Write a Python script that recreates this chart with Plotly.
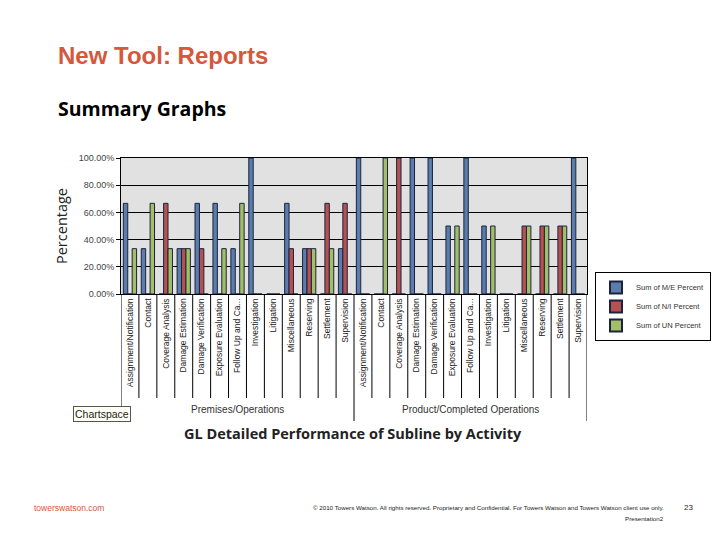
import plotly.graph_objects as go

groups = ["Premises/Operations", "Product/Completed Operations"]
activities = ["Assignment/Notification", "Contact", "Coverage Analysis", "Damage Estimation",
              "Damage Verification", "Exposure Evaluation", "Follow Up and Ca...", "Investigation",
              "Litigation", "Miscellaneous", "Reserving", "Settlement", "Supervision"]
me_pct = [66.67, 33.33, 0, 33.33, 66.67, 66.67, 33.33, 100, 0, 66.67, 33.33, 0, 33.33,
          100, 0, 0, 100, 100, 50, 100, 50, 0, 0, 0, 0, 100]
ni_pct = [0, 0, 66.67, 33.33, 33.33, 0, 0, 0, 0, 33.33, 33.33, 66.67, 66.67,
          0, 0, 100, 0, 0, 0, 0, 0, 0, 50, 50, 50, 0]
un_pct = [33.33, 66.67, 33.33, 33.33, 0, 33.33, 66.67, 0, 0, 0, 33.33, 33.33, 0,
          0, 100, 0, 0, 0, 50, 0, 50, 0, 50, 50, 50, 0]
series_names = ["Sum of M/E Percent", "Sum of N/I Percent", "Sum of UN Percent"]
y_ticks = [0, 20, 40, 60, 80, 100]

labels = activities * len(groups)
xs = list(range(len(labels)))

OFF = 8  # page body margin
W, H = 720 - OFF, 540 - OFF
L, R, T, B = 121, 587, 158, 294

def px(X):
    return (X - L) / (R - L)

def py(Y):
    return (B - Y) / (B - T)

colors = ["#5a7dab", "#b5514e", "#a2bf66"]
fig = go.Figure()
for name, vals, c in zip(series_names, [me_pct, ni_pct, un_pct], colors):
    fig.add_trace(go.Bar(x=xs, y=[v / 100 for v in vals], name=name,
                         marker=dict(color=c, line=dict(color="#1c2340", width=1))))

NARROW = "Liberation Sans Narrow, Liberation Sans, Arial"
tickfont = dict(family=NARROW, size=8.5, color="#222222")
fig.update_layout(
    width=W, height=H,
    margin=dict(l=L - OFF, r=720 - R, t=T - OFF, b=540 - B, autoexpand=False),
    paper_bgcolor="white", plot_bgcolor="#e1e1e1",
    barmode="group", bargap=0.26, bargroupgap=0,
    font=dict(family="Liberation Sans, Arial", color="#222222"),
    legend=dict(x=px(595), y=py(272), xanchor="left", yanchor="top",
                bordercolor="#000000", borderwidth=1, bgcolor="white",
                font=dict(family=NARROW, size=7.5, color="#333333"),
                tracegroupgap=0, itemwidth=30, itemsizing="constant"),
    showlegend=True,
)
fig.update_xaxes(range=[-0.5, len(labels) - 0.5], tickmode="array", tickvals=xs, ticktext=labels,
                 tickangle=-90, tickfont=tickfont, showgrid=False, zeroline=False,
                 showline=True, linecolor="black", linewidth=1, mirror=True, ticks="")
fig.update_yaxes(range=[0, 1], tickmode="array", tickvals=[v / 100 for v in y_ticks],
                 tickformat=".2%", tickfont=dict(family=NARROW, size=9, color="#444444"),
                 showgrid=True, gridcolor="black", gridwidth=1, zeroline=False,
                 showline=True, linecolor="black", linewidth=1, mirror=True,
                 ticks="outside", ticklen=4, tickcolor="black")

# category separators
for i in range(len(labels) + 1):
    is_group = (i % len(activities) == 0)
    fig.add_shape(type="line", xref="x", yref="paper", x0=i - 0.5, x1=i - 0.5,
                  y0=0, y1=py(421) if is_group else py(398),
                  line=dict(color="black", width=1))

# group labels
for gi, g in enumerate(groups):
    fig.add_annotation(xref="x", yref="paper", x=gi * len(activities) + (len(activities) - 1) / 2,
                       y=py(409), yanchor="middle", text=g, showarrow=False,
                       font=dict(family=NARROW, size=10, color="#333333"))

# chartspace tooltip
fig.add_annotation(xref="paper", yref="paper", x=px(73), y=py(414), xanchor="left", yanchor="middle",
                   text="Chartspace", showarrow=False, bgcolor="#fffff4", bordercolor="#555555",
                   borderwidth=1, borderpad=1,
                   font=dict(family="Liberation Sans, Arial", size=10.5, color="#222222"))

# chart title
fig.add_annotation(xref="paper", yref="paper", x=px(353), y=py(433), yanchor="middle",
                   text="<b>GL Detailed Performance of Subline by Activity</b>",
                   showarrow=False, font=dict(family="Open Sans, Liberation Sans", size=14.5, color="#222222"))

# y axis title
fig.add_annotation(xref="paper", yref="paper", x=px(61), y=py(226), xanchor="center", yanchor="middle",
                   text="Percentage", textangle=-90,
                   showarrow=False, font=dict(family="Open Sans, Liberation Sans", size=14.5, color="#222222"))

# slide texts
fig.add_annotation(xref="paper", yref="paper", x=px(56), y=py(55), xanchor="left", yanchor="middle",
                   text="<b>New Tool: Reports</b>", showarrow=False,
                   font=dict(family="Liberation Sans, Arial", size=24, color="#d4583c"))
fig.add_annotation(xref="paper", yref="paper", x=px(56), y=py(108), xanchor="left", yanchor="middle",
                   text="<b>Summary Graphs</b>", showarrow=False,
                   font=dict(family="Open Sans, Liberation Sans", size=19.5, color="#000000"))
fig.add_annotation(xref="paper", yref="paper", x=px(32), y=py(508), xanchor="left", yanchor="middle",
                   text="towerswatson.com", showarrow=False,
                   font=dict(family="Liberation Sans, Arial", size=8.5, color="#d4583c"))
fig.add_annotation(xref="paper", yref="paper", x=px(666), y=py(508), xanchor="right", yanchor="middle",
                   text="© 2010 Towers Watson. All rights reserved. Proprietary and Confidential. For Towers Watson and Towers Watson client use only.",
                   showarrow=False, font=dict(family=NARROW, size=6.2, color="#222222"))
fig.add_annotation(xref="paper", yref="paper", x=px(666), y=py(518), xanchor="right", yanchor="middle",
                   text="Presentation2", showarrow=False,
                   font=dict(family=NARROW, size=6.2, color="#222222"))
fig.add_annotation(xref="paper", yref="paper", x=px(682), y=py(507), xanchor="left", yanchor="middle",
                   text="23", showarrow=False,
                   font=dict(family="Liberation Sans, Arial", size=8, color="#222222"))

fig.write_html("out.html")
